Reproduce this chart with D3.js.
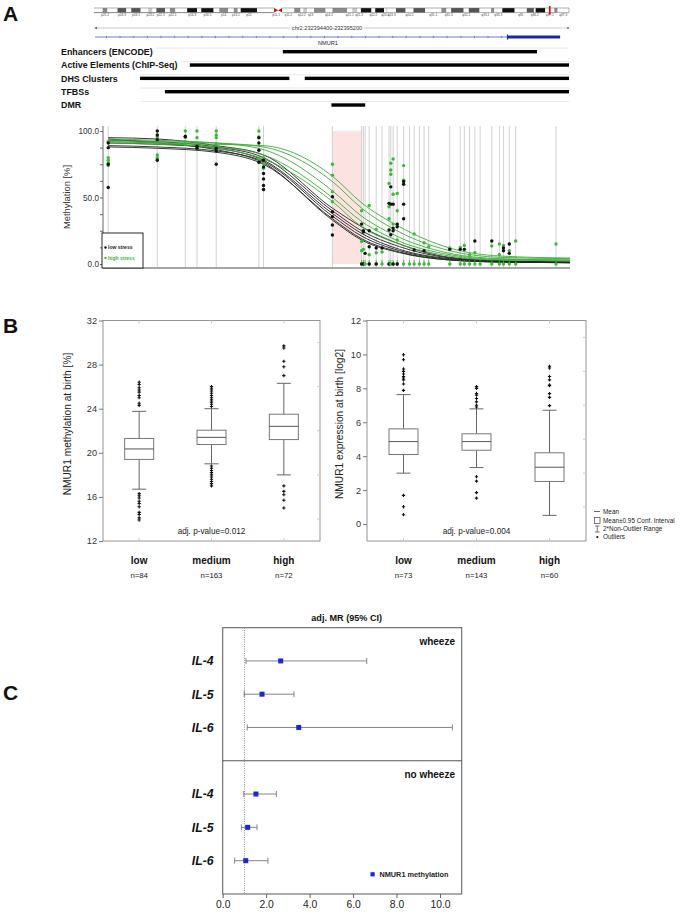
<!DOCTYPE html>
<html><head><meta charset="utf-8">
<script src="https://cdn.jsdelivr.net/npm/d3@7"></script>
<style>
body{margin:0;background:#fff}
svg{display:block}
text{font-family:"Liberation Sans",Arial,Helvetica,sans-serif}
</style>
</head><body>
<svg id="fig" width="685" height="912"></svg>
<script>
// ================= DATA =================
// Chromosome 2 ideogram bands (end positions in Mb) and stains
const bandNames = ["p25.3","p25.2","p25.1","p24.3","p24.2","p24.1","p23.3","p23.2","p23.1","p22.3","p22.2","p22.1","p21","p16.3","p16.2","p16.1","p15","p14","p13.3","p13.2","p13.1","p12","p11.2","p11.1","q11.1","q11.2","q12.1","q12.2","q12.3","q13","q14.1","q14.2","q14.3","q21.1","q21.2","q21.3","q22.1","q22.2","q22.3","q23.1","q23.2","q23.3","q24.1","q24.2","q24.3","q31.1","q31.2","q31.3","q32.1","q32.2","q32.3","q33.1","q33.2","q33.3","q34","q35","q36.1","q36.2","q36.3","q37.1","q37.2","q37.3"];
const bandEnds = [4.4,6.9,12,16.5,19,23.8,27.7,29.8,31.8,36.3,38.7,41.5,47.5,52.6,54.7,61,63.9,68.4,71.3,73.3,74.8,83.1,91.8,93.9,96,102.1,105.3,106.7,108.7,112.2,118.1,121.6,129.1,131.7,134.3,136.1,141.5,143.4,147.9,149,149.6,154,158.9,162.9,168.9,177.1,179.7,182.1,188.5,191.1,196.6,202.5,204.1,208.2,214.5,220.7,224.3,225.2,230.1,234.7,236.4,242.2];
const bandStains = ["gneg","gpos50","gneg","gpos75","gneg","gpos75","gneg","gpos25","gneg","gpos75","gneg","gpos50","gneg","gpos100","gneg","gpos100","gneg","gpos50","gneg","gpos50","gneg","gpos100","gneg","acen","acen","gneg","gpos50","gneg","gpos25","gneg","gpos50","gneg","gpos50","gneg","gpos25","gneg","gpos100","gneg","gpos100","gneg","gpos25","gneg","gpos75","gneg","gpos75","gneg","gpos50","gneg","gpos75","gneg","gpos75","gneg","gpos50","gneg","gpos100","gneg","gpos75","gneg","gpos100","gneg","gpos50","gneg"];
const locusMb = 232.39;
const regionLabel = "chr2:232394400-232395200";
const regionLength = 800; // bp, offsets below are relative to 232394400
const geneName = "NMUR1";
const geneIntron = [0, 696];
const geneExon = [696, 785];
const trackLabels = ["Enhancers (ENCODE)","Active Elements (ChIP-Seq)","DHS Clusters","TFBSs","DMR"];
const trackSegments = [[[317,746]],[[160,800]],[[76,328],[354,800]],[[118,800]],[[399,456]]];

// Methylation of CpG sites (offset bp)
const cpgPos = [9,93,141,161,194,267,275,393,443,446,449,456,468,478,490,493,497,504,515,525,533,542,550,558,594,612,619,628,637,646,666,679,686,696,707,776];
const lowStressDots = [
 [91,87.5,75,57.5],[100,97,93.5,78],[96,95.5],[88.5,87],[87,85,75],[95,91,85.5,76.5],[78,73,68,64,59,56],
 [50.6,39.3,35.6,29.3,21.8],[30,0],[25,24,0],[8],[25,13,0],[12,0],[12],[45.6,25.6,0],[58,45,22],[45,27,25,0],[30,28,0],[62,60,45,34],
 [],[10.5],[],[10],[],[11],[11],[11],[],[17.3],[],[17.3],[],[12,10],[15,8],[],[]
];
const highStressDots = [
 [92,80,78,76,74],[95.5,92.5,82,80,79],[100,92,90],[100,95,90.5,87],[100,97,95,90,88],[100,95.5,79],[80,75.5,72,56],
 [75,66.7,54.4,46.8],[40,17,10,0],[11,0],[0],[44,7,0],[26,8.5,0],[9,0],[60.6,43,34,0],[75.7,70.7,67.5,0],[79,52.5,30,0],[53,40,30,18,0],[74,63,0],
 [0],[22.6,0],[0],[16,0],[13,0],[12,0],[12.5,0],[14,0],[7,0],[8.5,0],[0],[13.5,0],[15,7,0],[14,0],[10,0],[17.3,0],[15,0]
];
const curveX = [9,93,194,275,393,443,508,594,680,800];
const lowStressCurves = [
 [95,94,89,82,42,28,15,5,2.5,1.5],
 [93,92,88,80,40,25,13,4.5,2,1.5],
 [91,90,87,78,38,23,11,4,2,1],
 [89,88,85,77,36,21,10,3.5,1.5,1],
 [88,87,84,75,34,19,9,3,1.5,1],
 [94,91,86,76,33,18,8.5,3,1.5,1]
];
const highStressCurves = [
 [92,91,90,89,66,46,28,12,6,4.5],
 [93,92,91,88,62,42,24,10,5,4],
 [94,93,91,86,55,36,20,8,4,3],
 [91,90,88,82,50,32,17,7,3.5,3],
 [92,91,87,79,47,28,15,6,3,2.5]
];
const dmrRange = [393,443];
const methTicks = [0,50,100];

// Panel B
const groups = ["low","medium","high"];
const methN = [84,163,72];
const methQ1 = [19.4,20.75,21.2];
const methMedian = [20.35,21.4,22.4];
const methQ3 = [21.3,22.05,23.5];
const methWhiskLo = [16.7,19.0,18.0];
const methWhiskHi = [23.76,24.0,26.3];
const methOutliers = [
 [26.4,26.2,25.9,25.7,25.5,25.2,25.0,24.5,24.3,16.3,16.1,15.9,15.6,15.4,15.1,14.6,14.4,14.1,13.9],
 [26.0,25.8,25.6,25.4,25.2,25.0,24.8,24.6,24.4,24.2,18.8,18.6,18.4,18.2,18.0,17.8,17.6,17.4,17.2,17.0],
 [29.7,29.5,28.3,27.8,27.0,17.0,16.5,16.2,15.7,15.0]
];
const methPValue = "adj. p-value=0.012";
const exprN = [73,143,60];
const exprQ1 = [4.1,4.35,2.51];
const exprMedian = [4.86,4.86,3.35];
const exprQ3 = [5.61,5.32,4.2];
const exprWhiskLo = [3.0,3.33,0.51];
const exprWhiskHi = [7.63,6.79,6.71];
const exprOutliers = [
 [9.98,9.69,9.14,9.0,8.85,8.7,8.61,8.5,8.26,7.88,1.69,1.02,0.55],
 [8.1,8.0,7.7,7.6,7.4,7.2,7.0,6.9,2.79,2.53,1.85,1.53],
 [9.3,9.2,8.7,8.5,8.2,8.16,7.69,7.47,6.98]
];
const exprPValue = "adj. p-value=0.004";
const boxLegend = ["Mean","Mean±0.95 Conf. Interval","2*Non-Outlier Range","Outliers"];

// Panel C
const outcomes = ["IL-4","IL-5","IL-6"];
const strata = ["wheeze","no wheeze"];
const mrEstimate = [[2.67,1.81,3.5],[1.53,1.15,1.06]];
const mrLower = [[1.07,0.99,1.13],[0.97,0.86,0.55]];
const mrUpper = [[6.63,3.28,10.57],[2.47,1.58,2.08]];
const mrTicks = [0,2,4,6,8,10];

// ================= DRAW =================
const svg = d3.select("#fig");
const txt = (g,x,y,s,o={})=>{
  const t=g.append("text").attr("x",x).attr("y",y).text(s)
   .attr("font-size",o.size||9).attr("fill",o.fill||"#111")
   .attr("text-anchor",o.anchor||"start");
  if(o.bold) t.attr("font-weight","bold");
  if(o.italic) t.attr("font-style","italic");
  if(o.rotate) t.attr("transform",`rotate(-90,${x},${y})`);
  return t;
};
// panel letters
txt(svg,3,21,"A",{size:21,bold:true});
txt(svg,3,333,"B",{size:21,bold:true});
txt(svg,3,700,"C",{size:21,bold:true});

// ---- Ideogram ----
const gA = svg.append("g");
const xIdeo = d3.scaleLinear().domain([0,242.2]).range([94,569]);
const stainCol = {gneg:"#fff",gpos25:"#c8c8c8",gpos50:"#8a8a8a",gpos75:"#555",gpos100:"#111"};
const iy0=8, iy1=12.6;
bandNames.forEach((b,i)=>{
  const s = i? bandEnds[i-1]:0, e = bandEnds[i];
  const x0=xIdeo(s), x1=xIdeo(e);
  if(bandStains[i]==="acen"){
    const pts = b.startsWith("p") ? [[x0,iy0],[x1,(iy0+iy1)/2],[x0,iy1]] : [[x1,iy0],[x0,(iy0+iy1)/2],[x1,iy1]];
    gA.append("polygon").attr("points",pts.map(p=>p.join(",")).join(" ")).attr("fill","#d01010");
  } else {
    gA.append("rect").attr("x",x0).attr("y",iy0).attr("width",x1-x0).attr("height",iy1-iy0)
      .attr("fill",stainCol[bandStains[i]]);
  }
  if(i%2===1) txt(gA,(x0+x1)/2,16.3,b,{size:3.2,anchor:"middle",fill:"#444"});
});
const cenS = xIdeo(bandEnds[22]), cenE = xIdeo(bandEnds[24]);
gA.append("path").attr("d",`M${xIdeo(0)},${iy0}H${cenS}M${cenE},${iy0}H${xIdeo(242.2)}V${iy1}H${cenE}M${cenS},${iy1}H${xIdeo(0)}Z`)
  .attr("fill","none").attr("stroke","#777").attr("stroke-width",0.6);
gA.append("rect").attr("x",xIdeo(locusMb)-0.8).attr("y",6).attr("width",1.6).attr("height",8.5).attr("fill","#e00");

// ---- region line + gene ----
const xT = d3.scaleLinear().domain([0,regionLength]).range([95,569]);
gA.append("line").attr("x1",xT(0)).attr("x2",xT(regionLength)).attr("y1",28).attr("y2",28).attr("stroke","#bbb").attr("stroke-width",0.8);
gA.append("polygon").attr("points",`${xT(0)-1},28 ${xT(0)+2},26.8 ${xT(0)+2},29.2`).attr("fill","#666");
gA.append("circle").attr("cx",xT(regionLength)-1).attr("cy",28).attr("r",0.9).attr("fill","#666");
const rl = txt(gA,327,30,regionLabel,{size:5.6,anchor:"middle",fill:"#333"});
const bb = rl.node().getBBox();
gA.insert("rect",()=>rl.node()).attr("x",bb.x-1.5).attr("y",bb.y).attr("width",bb.width+3).attr("height",bb.height).attr("fill","#fff");
gA.append("line").attr("x1",xT(geneIntron[0])).attr("x2",xT(geneIntron[1])).attr("y1",37).attr("y2",37).attr("stroke","#3342b0").attr("stroke-width",0.7);
d3.range(geneIntron[0]+20,geneIntron[1],23).forEach(p=>{
  gA.append("path").attr("d",`M${xT(p)-0.8},35.8L${xT(p)},37L${xT(p)-0.8},38.2`).attr("fill","none").attr("stroke","#3342b0").attr("stroke-width",0.5);
});
gA.append("rect").attr("x",xT(geneExon[0])).attr("y",35.5).attr("width",xT(geneExon[1])-xT(geneExon[0])).attr("height",3).attr("fill","#1b2a9c");
gA.append("rect").attr("x",xT(geneExon[0])-0.5).attr("y",34.3).attr("width",1).attr("height",5.4).attr("fill","#1b2a9c");
txt(gA,318,45,geneName,{size:5.6,fill:"#222"});

// ---- tracks ----
const rowY0 = 51.7, rowStep = 13.33;
trackLabels.forEach((lab,i)=>{
  const y = rowY0 + i*rowStep;
  const lt = txt(gA,61,y+3.2,lab,{size:8.9,bold:true});
  const lx = lt.node().getBBox();
  gA.append("line").attr("x1",Math.max(lx.x+lx.width+4,140)).attr("x2",569).attr("y1",y-3.6).attr("y2",y-3.6).attr("stroke","#ddd").attr("stroke-width",0.7);
  trackSegments[i].forEach(s=>{
    gA.append("rect").attr("x",xT(s[0])).attr("y",y-1.7).attr("width",xT(s[1])-xT(s[0])).attr("height",3.4).attr("fill","#000");
  });
});

// ---- methylation plot ----
const gM = svg.append("g");
const xM = d3.scaleLinear().domain([0,regionLength]).range([103,570]);
const yM = d3.scaleLinear().domain([0,100]).range([264,131]);
gM.append("rect").attr("x",xM(dmrRange[0])).attr("y",yM(100)).attr("width",xM(dmrRange[1])-xM(dmrRange[0])).attr("height",yM(0)-yM(100)).attr("fill","#fde2e2");
cpgPos.forEach(p=>{
  gM.append("line").attr("x1",xM(p)).attr("x2",xM(p)).attr("y1",126).attr("y2",268).attr("stroke","#d2d2d2").attr("stroke-width",1);
});
// axes
const yAx = d3.axisLeft(yM).tickValues(d3.range(0,100.1,12.5)).tickSize(3).tickFormat(d=>methTicks.includes(d)?d3.format(".1f")(d):"");
const ya = gM.append("g").attr("transform","translate(103,0)").call(yAx);
ya.select(".domain").attr("stroke","#666").attr("d","M-0,126V268");
ya.selectAll(".tick line").attr("stroke","#666");
ya.selectAll(".tick text").attr("font-size",8.2).attr("fill","#333").attr("font-family",'"Liberation Sans",Arial,sans-serif').attr("x",-4);
gM.append("line").attr("x1",103).attr("x2",570).attr("y1",268).attr("y2",268).attr("stroke","#888").attr("stroke-width",1.6);
txt(gM,70,197,"Methylation [%]",{size:9.4,anchor:"middle",rotate:true,fill:"#333"});
// curves
const line = d3.line().x((d,i)=>xM(curveX[i])).y(d=>yM(d)).curve(d3.curveMonotoneX);
lowStressCurves.forEach(c=>gM.append("path").attr("d",line(c)).attr("fill","none").attr("stroke","#222").attr("stroke-width",0.9));
highStressCurves.forEach(c=>gM.append("path").attr("d",line(c)).attr("fill","none").attr("stroke","#3cab38").attr("stroke-width",0.9));
// zero-level rug
cpgPos.forEach((p,i)=>{ if(highStressDots[i].includes(0)){
  gM.append("line").attr("x1",xM(p)).attr("x2",xM(p)).attr("y1",yM(0)-4).attr("y2",yM(0)+1).attr("stroke","#3cab38").attr("stroke-width",0.8);
}});
// dots
cpgPos.forEach((p,i)=>{
  highStressDots[i].forEach(v=>gM.append("circle").attr("cx",xM(p)).attr("cy",yM(v)).attr("r",1.7).attr("fill","#3db83a"));
  lowStressDots[i].forEach(v=>gM.append("circle").attr("cx",xM(p)).attr("cy",yM(v)).attr("r",1.7).attr("fill","#111"));
});
// legend
gM.append("rect").attr("x",102).attr("y",233).attr("width",41).attr("height",35).attr("fill","#fff").attr("stroke","#111").attr("stroke-width",0.9);
gM.append("circle").attr("cx",105.5).attr("cy",247.5).attr("r",1.2).attr("fill","#111");
txt(gM,108,249.3,"low stress",{size:5,bold:true,fill:"#222"});
gM.append("circle").attr("cx",105.5).attr("cy",258).attr("r",1.2).attr("fill","#3db83a");
txt(gM,108,259.8,"high stress",{size:5,bold:true,fill:"#3db83a"});

// ---- Box plots ----
function boxPanel(opt){
  const g = svg.append("g");
  const x = d3.scalePoint().domain(groups).range([opt.x0,opt.x1]).padding(0.5);
  const y = d3.scaleLinear().domain(opt.domain).range([541,320.5]);
  g.append("rect").attr("x",opt.x0).attr("y",320.5).attr("width",opt.x1-opt.x0).attr("height",220.5).attr("fill","none").attr("stroke","#8a8a8a").attr("stroke-width",0.9);
  const ax = d3.axisLeft(y).tickValues(opt.ticks).tickSize(4).tickFormat(d3.format("d"));
  const a = g.append("g").attr("transform",`translate(${opt.x0},0)`).call(ax);
  a.select(".domain").remove();
  a.selectAll(".tick line").attr("stroke","#777");
  a.selectAll(".tick text").attr("font-size",9.2).attr("fill","#333").attr("font-family",'"Liberation Sans",Arial,sans-serif').attr("x",-6);
  opt.minor.forEach(v=>g.append("line").attr("x1",opt.x1-3).attr("x2",opt.x1).attr("y1",y(v)).attr("y2",y(v)).attr("stroke","#ccc"));
  groups.forEach(gr=>{
    g.append("line").attr("x1",x(gr)).attr("x2",x(gr)).attr("y1",320.5).attr("y2",323.5).attr("stroke","#ccc");
    g.append("line").attr("x1",x(gr)).attr("x2",x(gr)).attr("y1",538).attr("y2",541).attr("stroke","#ccc");
  });
  const w = 29, cw = 14;
  groups.forEach((gr,i)=>{
    const cx = x(gr);
    g.append("line").attr("x1",cx).attr("x2",cx).attr("y1",y(opt.wHi[i])).attr("y2",y(opt.q3[i])).attr("stroke","#666");
    g.append("line").attr("x1",cx).attr("x2",cx).attr("y1",y(opt.q1[i])).attr("y2",y(opt.wLo[i])).attr("stroke","#666");
    [opt.wHi[i],opt.wLo[i]].forEach(v=>g.append("line").attr("x1",cx-cw/2).attr("x2",cx+cw/2).attr("y1",y(v)).attr("y2",y(v)).attr("stroke","#666"));
    g.append("rect").attr("x",cx-w/2).attr("y",y(opt.q3[i])).attr("width",w).attr("height",y(opt.q1[i])-y(opt.q3[i])).attr("fill","#fff").attr("stroke","#777").attr("stroke-width",1);
    g.append("line").attr("x1",cx-w/2).attr("x2",cx+w/2).attr("y1",y(opt.med[i])).attr("y2",y(opt.med[i])).attr("stroke","#555").attr("stroke-width",1);
    opt.out[i].forEach(v=>g.append("path").attr("d",d3.symbol(d3.symbolCross,6)()).attr("transform",`translate(${cx},${y(v)})`).attr("fill","#111"));
    txt(g,cx,564,gr,{size:10,bold:true,anchor:"middle"});
    txt(g,cx,577.5,"n="+opt.n[i],{size:7.8,anchor:"middle",fill:"#222"});
  });
  txt(g,(opt.x0+opt.x1)/2,533.5,opt.p,{size:8.2,anchor:"middle",fill:"#222"});
  txt(g,opt.labX,424,opt.label,{size:10.2,anchor:"middle",rotate:true,fill:"#222"});
  return g;
}
boxPanel({x0:103,x1:320,domain:[12,32],ticks:[12,16,20,24,28,32],minor:[14,18,22,26,30],
  q1:methQ1,med:methMedian,q3:methQ3,wLo:methWhiskLo,wHi:methWhiskHi,out:methOutliers,n:methN,p:methPValue,
  labX:71,label:"NMUR1 methylation at birth [%]"});
boxPanel({x0:367,x1:586,domain:[-1,12],ticks:[0,2,4,6,8,10,12],minor:[1,3,5,7,9,11],
  q1:exprQ1,med:exprMedian,q3:exprQ3,wLo:exprWhiskLo,wHi:exprWhiskHi,out:exprOutliers,n:exprN,p:exprPValue,
  labX:343,label:"NMUR1 expression at birth [log2]"});
// box legend
const gL = svg.append("g");
const lyS = [511.5,520.5,529,537];
gL.append("line").attr("x1",594).attr("x2",600).attr("y1",lyS[0]).attr("y2",lyS[0]).attr("stroke","#444").attr("stroke-width",0.8);
gL.append("rect").attr("x",594.5).attr("y",lyS[1]-3).attr("width",5.5).attr("height",6).attr("fill","#fff").attr("stroke","#444").attr("stroke-width",0.7);
gL.append("path").attr("d",`M595,${lyS[2]-3}H599.5M597.25,${lyS[2]-3}V${lyS[2]+3}M595,${lyS[2]+3}H599.5`).attr("fill","none").attr("stroke","#444").attr("stroke-width",0.7);
gL.append("circle").attr("cx",597.3).attr("cy",lyS[3]).attr("r",1.1).attr("fill","#111");
boxLegend.forEach((s,i)=>txt(gL,603,lyS[i]+2.2,s,{size:6.4,fill:"#222"}));

// ---- Forest plot ----
const gC = svg.append("g");
const xC = d3.scaleLinear().domain([0,11]).range([222.7,461.7]);
const cTop = 627.7, cMid = 760.7, cBot = 894;
txt(gC,346.7,620.5,"adj. MR (95% CI)",{size:9.1,bold:true,anchor:"middle"});
gC.append("rect").attr("x",xC(0)).attr("y",cTop).attr("width",xC(11)-xC(0)).attr("height",cBot-cTop).attr("fill","none").attr("stroke","#666").attr("stroke-width",1.1);
gC.append("line").attr("x1",xC(0)).attr("x2",xC(11)).attr("y1",cMid).attr("y2",cMid).attr("stroke","#555").attr("stroke-width",1.1);
gC.append("line").attr("x1",xC(1)).attr("x2",xC(1)).attr("y1",cTop).attr("y2",cBot).attr("stroke","#888").attr("stroke-width",1).attr("stroke-dasharray","1,1.3");
const cax = d3.axisBottom(xC).tickValues(mrTicks).tickSize(4).tickFormat(d3.format(".1f"));
const ca = gC.append("g").attr("transform",`translate(0,${cBot})`).call(cax);
ca.select(".domain").remove();
ca.selectAll(".tick line").attr("stroke","#666");
ca.selectAll(".tick text").attr("font-size",10.3).attr("fill","#222").attr("font-family",'"Liberation Sans",Arial,sans-serif').attr("y",7);
strata.forEach((st,s)=>{
  const top = s===0?cTop:cMid, bot = s===0?cMid:cBot;
  const yr = d3.scalePoint().domain(outcomes).range([top,bot]).padding(1);
  txt(gC,455,top+17,st,{size:10,bold:true,anchor:"end"});
  outcomes.forEach((o,i)=>{
    const y = yr(o);
    txt(gC,213.5,y+4.4,o,{size:12.2,bold:true,italic:true,anchor:"end"});
    gC.append("line").attr("x1",xC(mrLower[s][i])).attr("x2",xC(mrUpper[s][i])).attr("y1",y).attr("y2",y).attr("stroke","#777").attr("stroke-width",0.9);
    [mrLower[s][i],mrUpper[s][i]].forEach(v=>gC.append("line").attr("x1",xC(v)).attr("x2",xC(v)).attr("y1",y-3).attr("y2",y+3).attr("stroke","#777").attr("stroke-width",0.9));
    gC.append("rect").attr("x",xC(mrEstimate[s][i])-2.5).attr("y",y-2.5).attr("width",5).attr("height",5).attr("fill","#1b27d6");
  });
});
gC.append("rect").attr("x",370.5).attr("y",872.2).attr("width",4.2).attr("height",4.2).attr("fill","#1b27d6");
txt(gC,379.5,876.8,"NMUR1 methylation",{size:7.3,bold:true,fill:"#222"});
</script>
</body></html>
